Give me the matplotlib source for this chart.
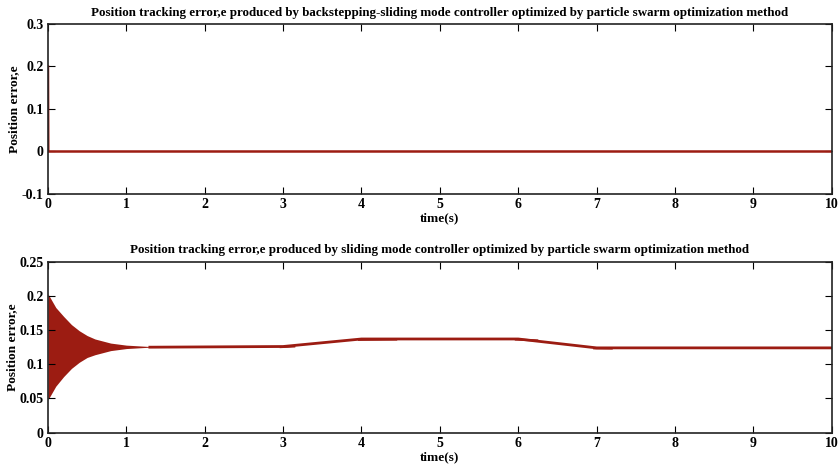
import matplotlib
matplotlib.use("Agg")
import matplotlib.pyplot as plt
import numpy as np

plt.rcParams['font.family'] = ['Liberation Serif', 'DejaVu Serif']
plt.rcParams['font.weight'] = 'bold'

RED = '#9c1c12'

# backstepping-sliding mode (PSO): error drops from 0.2 to zero at start
t_bs = [0.0, 0.004, 10.0]
e_bs = [0.2, 0.0, 0.0]

# sliding mode (PSO): chattering envelope during the first second
t_env = [0.0, 0.1, 0.2, 0.3, 0.4, 0.5, 0.6, 0.8, 1.0, 1.3]
e_upper = [0.203, 0.183, 0.170, 0.158, 0.149, 0.142, 0.137, 0.131, 0.128, 0.126]
e_lower = [0.048, 0.068, 0.082, 0.094, 0.103, 0.110, 0.114, 0.120, 0.123, 0.125]

# sliding mode (PSO): steady part of the error
t_smc = [1.3, 3.0, 4.0, 6.0, 7.0, 10.0]
e_smc = [0.125, 0.126, 0.137, 0.137, 0.124, 0.124]

# short chattering bursts where the error changes slope
t_burst = [[2.95, 3.15], [3.95, 4.45], [5.95, 6.25], [6.95, 7.2]]
e_burst = [[0.1255, 0.1265], [0.1365, 0.1370], [0.1370, 0.1355], [0.1243, 0.1240]]
burst_hw = [0.0012, 0.0016, 0.0016, 0.0018]

title_top = 'Position tracking error,e produced by backstepping-sliding mode controller optimized by particle swarm optimization method'
title_bot = 'Position tracking error,e produced by sliding mode controller optimized by particle swarm optimization method'

fig = plt.figure(figsize=(8.4, 4.66), dpi=100)
ax1 = fig.add_axes([0.0571, 0.5837, 0.933, 0.3648])
ax2 = fig.add_axes([0.0571, 0.0715, 0.933, 0.3669])


def style(ax, title):
    ax.set_xlim(0, 10)
    ax.set_xticks(range(0, 11))
    ax.tick_params(direction='in', top=True, right=True, length=5,
                   width=0.8, labelsize=10, pad=3)
    for lab in ax.get_xticklabels() + ax.get_yticklabels():
        lab.set_fontweight('bold')
    for s in ax.spines.values():
        s.set_linewidth(1.2)
        s.set_color('#222222')
    ax.set_title(title, fontsize=9.4, fontweight='bold', pad=6)
    ax.set_xlabel('time(s)', fontsize=9.5, fontweight='bold', labelpad=1)
    ax.set_ylabel('Position error,e', fontsize=9.6, fontweight='bold', labelpad=1)


ax1.plot(t_bs, e_bs, color=RED, lw=1.8)
ax1.set_ylim(-0.1, 0.3)
ax1.set_yticks([-0.1, 0, 0.1, 0.2, 0.3])
ax1.set_yticklabels(['-0.1', '0', '0.1', '0.2', '0.3'])
style(ax1, title_top)

ax2.fill_between(t_env, e_lower, e_upper, color=RED, lw=0)
ax2.plot(t_smc, e_smc, color=RED, lw=2.0)
for tb, eb, hw in zip(t_burst, e_burst, burst_hw):
    eb = np.array(eb)
    ax2.fill_between(tb, eb - hw, eb + hw, color=RED, lw=0)
ax2.set_ylim(0, 0.25)
ax2.set_yticks([0, 0.05, 0.1, 0.15, 0.2, 0.25])
ax2.set_yticklabels(['0', '0.05', '0.1', '0.15', '0.2', '0.25'])
style(ax2, title_bot)

fig.savefig('out.png', dpi=100)
